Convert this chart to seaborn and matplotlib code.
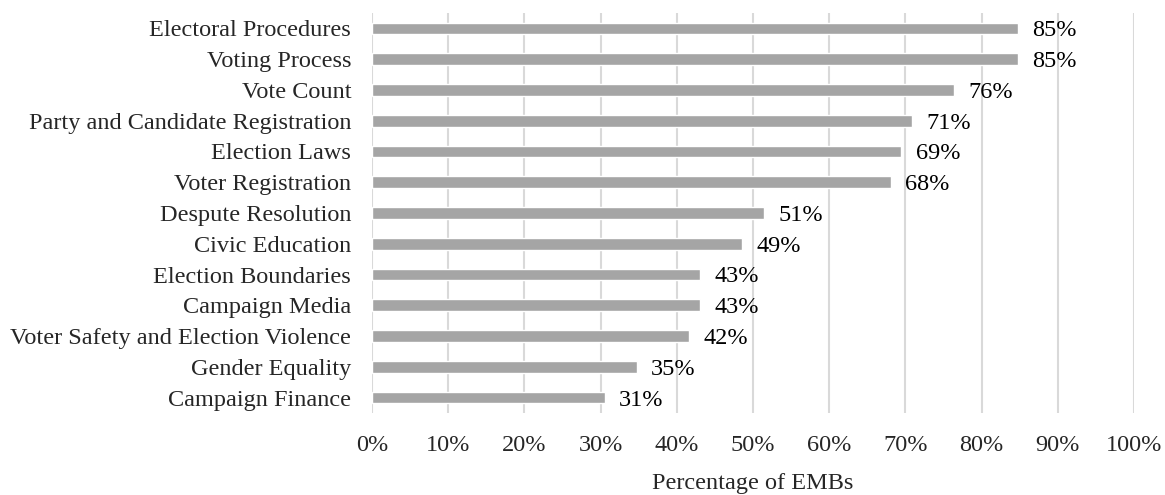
import pandas as pd
import matplotlib.pyplot as plt
import seaborn as sns

# EMB survey: share of EMBs reporting each area
categories = [
    "Electoral Procedures", "Voting Process", "Vote Count",
    "Party and Candidate Registration", "Election Laws", "Voter Registration",
    "Despute Resolution", "Civic Education", "Election Boundaries",
    "Campaign Media", "Voter Safety and Election Violence",
    "Gender Equality", "Campaign Finance",
]
counts = [61, 61, 55, 51, 50, 49, 37, 35, 31, 31, 30, 25, 22]
total_embs = 72
tick_labels = ["0%", "10%", "20%", "30%", "40%", "50%",
               "60%", "70%", "80%", "90%", "100%"]

df = pd.DataFrame({"area": categories, "share": [c / total_embs for c in counts]})

sns.set_style("white")
plt.rcParams['font.family'] = ['Liberation Serif', 'DejaVu Serif']

fig = plt.figure(figsize=(11.65, 4.95), dpi=100)
ax = fig.add_axes([0.3193, 0.1657, 0.6541, 0.808])

sns.barplot(data=df, x="share", y="area", color="#a5a5a5", saturation=1,
            width=0.38, ax=ax)

ax.set_xlim(0, 1)
ax.set_xticks([i / 10 for i in range(11)])
ax.set_xticklabels(tick_labels, fontsize=17.5)
ax.tick_params(axis='x', length=0, pad=16)
ax.tick_params(axis='y', length=0, pad=15, labelsize=17.5)
ax.grid(axis='x', color="#d9d9d9", linewidth=1.5)
ax.set_axisbelow(True)
for s in ax.spines.values():
    s.set_visible(False)

for i, v in enumerate(df["share"]):
    ax.text(v + 0.019, i + 0.08, f"{round(v * 100):.0f}%", va='center', ha='left',
            fontsize=17.5, color='black')

ax.set_ylabel("")
ax.set_xlabel("Percentage of EMBs", fontsize=17.5, labelpad=12)

fig.savefig("out.png", dpi=100)
